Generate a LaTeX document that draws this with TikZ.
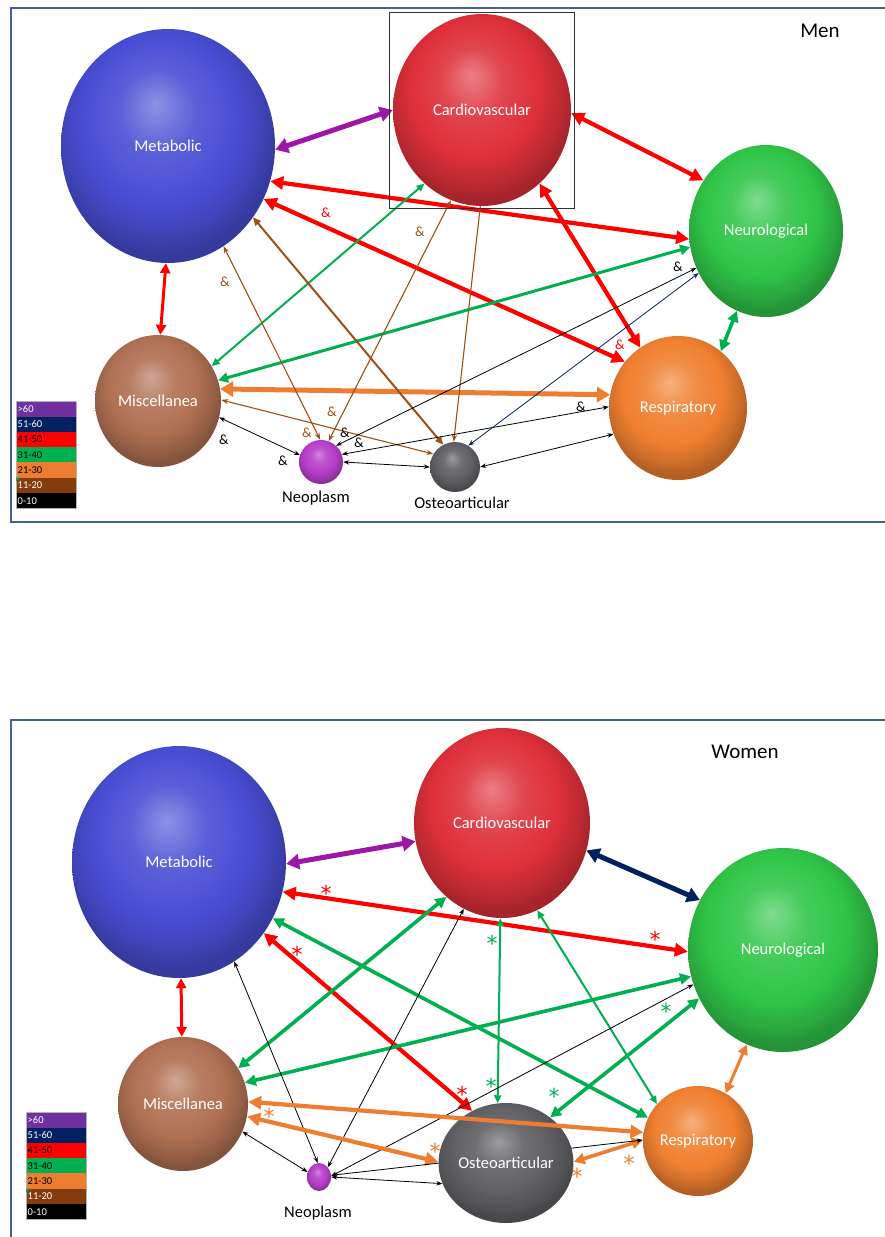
\documentclass[tikz,border=0pt]{standalone}
\usepackage{fontspec}
\setmainfont{Carlito}
\newfontfamily\astfam{DejaVu Sans}
\usetikzlibrary{shapes.geometric,arrows.meta}
\pgfdeclarelayer{bg}
\pgfdeclarelayer{bgbase}
\pgfsetlayers{bgbase,bg,main}
\makeatletter
\pgfdeclareradialshading[tikz@ball]{sphere}{\pgfqpoint{-3bp}{9bp}}{%
 color(0bp)=(tikz@ball!62!white);
 color(9bp)=(tikz@ball!90!white);
 color(18bp)=(tikz@ball);
 color(24bp)=(tikz@ball!85!black);
 color(27bp)=(tikz@ball!75!black);
 color(50bp)=(tikz@ball!60!black)}
\makeatother
\definecolor{cMet}{RGB}{72,78,212}
\definecolor{cCv}{RGB}{222,48,58}
\definecolor{cNeu}{RGB}{48,198,72}
\definecolor{cResp}{RGB}{240,128,48}
\definecolor{cMisc}{RGB}{176,112,82}
\definecolor{cNeo}{RGB}{182,62,200}
\definecolor{cOst}{RGB}{96,96,100}
\definecolor{lgP}{RGB}{112,48,160}
\definecolor{lgN}{RGB}{0,32,96}
\definecolor{lgR}{RGB}{255,0,0}
\definecolor{lgG}{RGB}{0,176,80}
\definecolor{lgO}{RGB}{237,125,49}
\definecolor{lgB}{RGB}{132,60,12}
\definecolor{aPur}{RGB}{156,22,168}
\definecolor{aRed}{RGB}{255,0,0}
\definecolor{aGrn}{RGB}{0,176,80}
\definecolor{aOra}{RGB}{237,125,49}
\definecolor{aBrn}{RGB}{156,80,24}
\definecolor{aNav}{RGB}{0,32,96}
\definecolor{frameC}{RGB}{68,96,150}
\newcommand\lblf{\fontsize{16.5}{18}\selectfont}
\newcommand\ttlf{\fontsize{21}{24}\selectfont}
\newcommand\ampf{\fontsize{14}{16}\selectfont}
\newcommand\astf{\astfam\fontsize{22}{24}\selectfont}
\newcommand\legf{\fontsize{10.5}{12}\selectfont}
\begin{document}
\begin{tikzpicture}[x=1pt,y=-1pt,
  orb/.style={ellipse, inner sep=0pt, ball color=#1, shading=sphere, text=white, font=\lblf},
  txt/.style={font=\lblf, text=black, inner sep=0pt},
  amp/.style={font=\ampf, inner sep=0pt},
  ast/.style={font=\astf, inner sep=0pt},
  legcell/.style={rectangle, anchor=north west, minimum height=15.3pt, text width=57pt,
    align=left, inner xsep=1.5pt, inner ysep=0pt, font=\legf},
  wXL/.style={line width=5pt, {Triangle[length=13pt,width=15pt]}-{Triangle[length=13pt,width=15pt]}},
  wL/.style={line width=4.2pt, {Triangle[length=13pt,width=13pt]}-{Triangle[length=13pt,width=13pt]}},
  wML/.style={line width=3.6pt, {Triangle[length=11pt,width=11pt]}-{Triangle[length=11pt,width=11pt]}},
  wM/.style={line width=3pt, {Triangle[length=10pt,width=10pt]}-{Triangle[length=10pt,width=10pt]}},
  wS/.style={line width=2pt, {Triangle[length=8pt,width=7pt]}-{Triangle[length=8pt,width=7pt]}},
  wT/.style={line width=1.1pt, {Stealth[length=7pt,width=5pt]}-{Stealth[length=7pt,width=5pt]}},
  wH/.style={line width=0.8pt, {Stealth[length=6pt,width=4.5pt]}-{Stealth[length=6pt,width=4.5pt]}},
]
\useasboundingbox (0,0) rectangle (885,1237);
\begin{pgfonlayer}{bgbase}
\fill[white] (0,0) rectangle (885,1237);
\end{pgfonlayer}
% frames
\draw[frameC, line width=1.8pt] (890,8) -- (11,8) -- (11,522) -- (890,522);
\draw[frameC, line width=1.8pt] (890,720) -- (11,720) -- (11,1240);

% ================= MEN =================
\node[orb=cMet, minimum width=214pt, minimum height=234pt] (m1) at (168,146) {Metabolic};
\node[orb=cCv, minimum width=178pt, minimum height=192pt] (c1) at (482,110) {Cardiovascular};
\node[draw=black!80, line width=0.8pt, rectangle, minimum width=185pt, minimum height=196pt, inner sep=0pt] (box1) at (481.5,110) {};
\node[orb=cNeu, minimum width=154pt, minimum height=172pt] (n1) at (766,231) {Neurological};
\node[orb=cResp, minimum width=138pt, minimum height=144pt] (r1) at (678,408) {Respiratory};
\node[orb=cMisc, minimum width=126pt, minimum height=132pt] (x1) at (158,401) {Miscellanea};
\node[orb=cNeo, minimum width=44pt, minimum height=44pt] (p1) at (321,462) {};
\node[orb=cOst, minimum width=50pt, minimum height=50pt] (o1) at (455,467) {};
\node[txt] (p1l) at (316,498) {Neoplasm};
\node[txt] (o1l) at (462,503) {Osteoarticular};
\node[font=\ttlf, inner sep=0pt] (men) at (820,31) {Men};

\begin{pgfonlayer}{bg}
\draw[aPur, wXL] (m1.-2) -- (c1.180);
\draw[aRed, wL] (c1.-2) -- (n1.141);
\draw[aRed, wL] (m1.-19) -- (n1.-174);
\draw[aRed, wL] (m1.-29) -- (r1.139);
\draw[aRed, wL] (c1.-52) -- (r1.122);
\draw[aRed, wM] (m1.-91) -- (x1.88);
\draw[aGrn, wML] (n1.-110) -- (r1.53);
\draw[aGrn, wS] (c1.-128) -- (x1.33);
\draw[aGrn, wM] (n1.-168) -- (x1.19);
\draw[aOra, wXL] (x1.11) -- (r1.169);
\draw[aBrn, wT] (m1.-61) -- (p1.92);
\draw[aBrn, wS] (m1.-40) -- (o1.118);
\draw[aBrn, wT] (c1.-109) -- (p1.70);
\draw[aBrn, line width=1.1pt, -{Stealth[length=7pt,width=5pt]}] (c1.-91) -- (o1.93);
\draw[aBrn, wT] (x1.1) -- (o1.149);
\draw[black, wH] (x1.-15) -- (p1.162);
\draw[black, wH] (p1.47) -- (n1.-152);
\draw[black, wH] (p1.20) -- (r1.179);
\draw[aNav, wH] (o1.58) -- (n1.-148);
\draw[black, wH] (p1.0) -- (o1.180);
\draw[black, wH] (o1.0) -- (r1.-158);
\end{pgfonlayer}

\node[amp, text=aRed] (a1) at (326,213) {\&};
\node[amp, text=aRed] (a2) at (620,345) {\&};
\node[amp, text=aBrn] (a3) at (225,282) {\&};
\node[amp, text=aBrn] (a4) at (420,232) {\&};
\node[amp, text=aBrn] (a5) at (332,412) {\&};
\node[amp, text=aBrn] (a6) at (307,433) {\&};
\node[amp] (a7) at (224,440) {\&};
\node[amp] (a8) at (283,461) {\&};
\node[amp] (a9) at (345,433) {\&};
\node[amp] (a10) at (359,443) {\&};
\node[amp] (a11) at (678,267) {\&};
\node[amp] (a12) at (581,407) {\&};

% legend men
\foreach \i/\t/\c/\tc in {0/{>60}/lgP/white,1/51-60/lgN/white,2/41-50/lgR/black,3/31-40/lgG/black,4/21-30/lgO/black,5/11-20/lgB/white,6/0-10/black/white}{
  \node[legcell, fill=\c, text=\tc] (lgA\i) at (16,{401+15.3*\i}) {\t};
}
\draw[black!30, line width=0.5pt] (16,401) rectangle (76,508.1);
\fill[lgG] (16,477.5) -- (20,477.5) -- (16,481.5) -- cycle;

% ================= WOMEN =================
\node[orb=cMet, minimum width=214pt, minimum height=232pt] (m2) at (179,862) {Metabolic};
\node[orb=cCv, minimum width=176pt, minimum height=190pt] (c2) at (502,823) {Cardiovascular};
\node[orb=cNeu, minimum width=190pt, minimum height=204pt] (n2) at (783,950) {Neurological};
\node[orb=cMisc, minimum width=130pt, minimum height=134pt] (x2) at (183,1104) {Miscellanea};
\node[orb=cResp, minimum width=110pt, minimum height=110pt] (r2) at (698,1141) {Respiratory};
\node[orb=cOst, minimum width=116pt, minimum height=120pt] (o2) at (506,1163) {Osteoarticular};
\node[orb=cNeo, minimum width=24pt, minimum height=28pt] (p2) at (319,1177) {};
\node[txt] (p2l) at (318,1213) {Neoplasm};
\node[font=\ttlf, inner sep=0pt] (women) at (745,752) {Women};

\begin{pgfonlayer}{bg}
\draw[aPur, wXL] (m2.-1) -- (c2.-168);
\draw[aNav, wXL] (c2.-18) -- (n2.149);
\draw[aRed, wL] (m2.-16) -- (n2.-179);
\draw[aRed, wM] (m2.-89) -- (x2.91);
\draw[aRed, wL] (m2.-40) -- (o2.123);
\draw[aGrn, wML] (m2.-31) -- (r2.155);
\draw[aGrn, wML] (c2.-127) -- (x2.33);
\draw[aGrn, wML] (n2.-164) -- (x2.19);
\draw[aGrn, wS] (c2.-91) -- (o2.98);
\draw[aGrn, wS] (c2.-68) -- (r2.138);
\draw[aGrn, wML] (n2.-150) -- (o2.46);
\draw[black, wH] (m2.-61) -- (p2.95);
\draw[black, wH] (c2.-114) -- (p2.48);
\draw[black, wH] (n2.-159) -- (p2.4);
\draw[aOra, wL] (x2.-11) -- (o2.179);
\draw[aOra, wML] (o2.1) -- (r2.179);
\draw[aOra, wM] (n2.-111) -- (r2.60);
\draw[black, wH] (x2.-25) -- (p2.156);
\draw[black, wH] (p2.0) -- (o2.-162);
\draw[black, wH] (p2.8) -- (r2.179);
\end{pgfonlayer}
\draw[aOra, wL] (x2.2) -- (r2.171);

\node[ast, text=aRed] (s1) at (326,893) {*};
\node[ast, text=aRed] (s2) at (655,939) {*};
\node[ast, text=aRed] (s3) at (297,954) {*};
\node[ast, text=aRed] (s4) at (462,1094) {*};
\node[ast, text=aGrn] (s5) at (492,943) {*};
\node[ast, text=aGrn] (s6) at (491,1086) {*};
\node[ast, text=aGrn] (s7) at (666,1011) {*};
\node[ast, text=aGrn] (s8) at (554,1096) {*};
\node[ast, text=aOra] (s9) at (269,1116) {*};
\node[ast, text=aOra] (s10) at (435,1151) {*};
\node[ast, text=aOra] (s11) at (577,1176) {*};
\node[ast, text=aOra] (s12) at (629,1163) {*};

% legend women
\foreach \i/\t/\c/\tc in {0/{>60}/lgP/white,1/51-60/lgN/white,2/41-50/lgR/black,3/31-40/lgG/black,4/21-30/lgO/black,5/11-20/lgB/white,6/0-10/black/white}{
  \node[legcell, fill=\c, text=\tc] (lgB\i) at (26,{1112+15.3*\i}) {\t};
}
\draw[black!30, line width=0.5pt] (26,1112) rectangle (86,1219.1);
\fill[lgG] (26,1188.5) -- (30,1188.5) -- (26,1192.5) -- cycle;
\end{tikzpicture}
\end{document}
